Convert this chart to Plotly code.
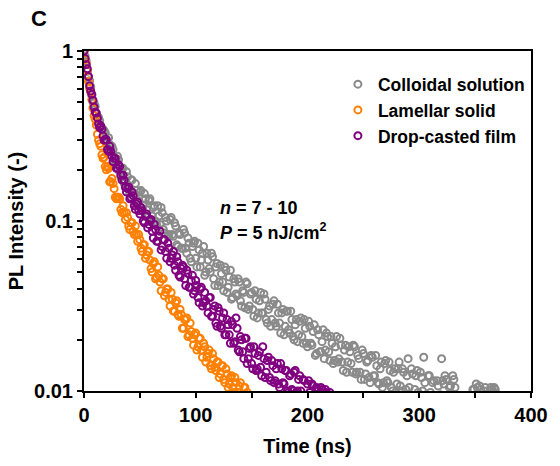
import plotly.graph_objects as go

# Time step of the acquisition grid (ns)
DT = 1.0

# PL intensity values (normalised), one per ns
colloidal = [1.000,0.933,0.871,0.759,0.700,0.668,0.617,0.550,0.501,0.495,
 0.473,0.427,0.407,0.407,0.389,0.355,0.347,0.347,0.339,0.331,
 0.288,0.269,0.309,0.282,0.257,0.275,0.263,0.224,0.214,0.224,
 0.240,0.229,0.195,0.182,0.204,0.204,0.166,0.170,0.195,0.182,
 0.162,0.145,0.174,0.174,0.141,0.145,0.166,0.151,0.132,0.123,
 0.148,0.151,0.117,0.123,0.145,0.135,0.117,0.105,0.132,0.135,
 0.100,0.107,0.120,0.123,0.100,0.0955,0.123,0.107,0.0955,0.120,
 0.112,0.0891,0.0851,0.105,0.100,0.0813,0.0832,0.102,0.105,0.0832,
 0.0813,0.0977,0.0933,0.0724,0.0708,0.0851,0.0832,0.0692,0.0692,0.0891,
 0.0851,0.0692,0.0646,0.0794,0.0741,0.0603,0.0575,0.0708,0.0741,0.0759,
 0.0603,0.0537,0.0741,0.0676,0.0537,0.0589,0.0646,0.0708,0.0479,0.0501,
 0.0646,0.0589,0.0525,0.0501,0.0646,0.0617,0.0457,0.0417,0.0537,0.0562,
 0.0417,0.0437,0.0550,0.0490,0.0437,0.0389,0.0537,0.0513,0.0380,0.0407,
 0.0468,0.0513,0.0347,0.0355,0.0457,0.0437,0.0372,0.0363,0.0457,0.0437,
 0.0339,0.0316,0.0389,0.0380,0.0309,0.0437,0.0427,0.0302,0.0316,0.0372,
 0.0380,0.0302,0.0275,0.0389,0.0347,0.0269,0.0288,0.0339,0.0380,0.0288,
 0.0288,0.0372,0.0347,0.0263,0.0251,0.0302,0.0316,0.0240,0.0263,0.0324,
 0.0339,0.0251,0.0240,0.0324,0.0288,0.0251,0.0219,0.0288,0.0302,0.0214,
 0.0240,0.0295,0.0295,0.0229,0.0219,0.0295,0.0263,0.0209,0.0200,0.0245,
 0.0263,0.0195,0.0214,0.0257,0.0269,0.0209,0.0191,0.0263,0.0234,0.0191,
 0.0182,0.0257,0.0240,0.0191,0.0186,0.0224,0.0245,0.0162,0.0166,0.0229,
 0.0214,0.0170,0.0170,0.0195,0.0229,0.0155,0.0174,0.0219,0.0209,0.0170,
 0.0151,0.0209,0.0191,0.0145,0.0151,0.0182,0.0209,0.0148,0.0155,0.0204,
 0.0186,0.0148,0.0132,0.0174,0.0186,0.0129,0.0148,0.0182,0.0170,0.0145,
 0.0129,0.0186,0.0182,0.0126,0.0129,0.0162,0.0155,0.0129,0.0117,0.0174,
 0.0166,0.0117,0.0126,0.0148,0.0151,0.0120,0.0112,0.0162,0.0158,0.0123,
 0.0123,0.0162,0.0141,0.0112,0.0110,0.0135,0.0148,0.0105,0.0112,0.0145,
 0.0151,0.0115,0.0112,0.0148,0.0132,0.0105,0.0100,0.0129,0.0135,0.0098,
 0.0110,0.0135,0.0148,0.0107,0.0100,0.0135,0.0129,0.0095,0.0102,0.0123,
 0.0155,0.0105,0.0095,0.0135,0.0126,0.0093,0.0102,0.0123,0.0132,0.0098,
 0.0095,0.0129,0.0120,0.0100,0.0158,0.0112,0.0095,0.0091,0.0123,0.0123,
 0.0098,0.0093,0.0112,0.0115,0.0089,0.0085,0.0115,0.0107,0.0091,0.0095,
 0.0155,0.0115,0.0110,0.0123,0.0117,0.0087,0.0087,0.0105,0.0107,0.0083,
 0.0123,0.0117,0.0105,0.0089,0.0081,0.0079,0.0089,0.0093,0.0081,0.0079,
 0.0087,0.0093,0.0078,0.0079,0.0087,0.0085,0.0078,0.0074,0.0102,0.0102,
 0.0095,0.0110,0.0105,0.0079,0.0107,0.0102,0.0079,0.0076,0.0100,0.0105,
 0.0079,0.0078,0.0076,0.0079,0.0105,0.0102,0.0098,0.0105,0.0102,0.0078,
 0.0095]

lamellar = [1.000,0.891,0.841,0.767,0.661,0.603,0.575,0.519,0.462,0.417,
 0.398,0.367,0.324,0.299,0.285,0.275,0.245,0.234,0.237,0.209,
 0.200,0.209,0.204,0.170,0.170,0.178,0.166,0.155,0.138,0.135,
 0.138,0.138,0.135,0.117,0.112,0.123,0.112,0.102,0.112,0.105,
 0.0933,0.0891,0.0977,0.0977,0.0871,0.0832,0.0933,0.0832,0.0759,0.0832,
 0.0776,0.0692,0.0661,0.0724,0.0724,0.0603,0.0631,0.0661,0.0661,0.0589,
 0.0525,0.0501,0.0562,0.0575,0.0457,0.0468,0.0537,0.0479,0.0437,0.0389,
 0.0457,0.0457,0.0363,0.0380,0.0398,0.0398,0.0347,0.0316,0.0380,0.0347,
 0.0295,0.0295,0.0331,0.0339,0.0282,0.0275,0.0302,0.0282,0.0234,0.0234,
 0.0263,0.0263,0.0269,0.0209,0.0214,0.0251,0.0224,0.0204,0.0186,0.0214,
 0.0219,0.0174,0.0182,0.0204,0.0204,0.0174,0.0158,0.0191,0.0182,0.0148,
 0.0158,0.0166,0.0174,0.0141,0.0135,0.0166,0.0155,0.0138,0.0132,0.0148,
 0.0148,0.0120,0.0126,0.0141,0.0141,0.0117,0.0112,0.0135,0.0126,0.0105,
 0.0110,0.0120,0.0123,0.0105,0.0098,0.0120,0.0112,0.0095,0.0098,0.0107,
 0.0112,0.0093,0.0095,0.0105,0.0105,0.0095,0.0098]

dropcast = [1.000,0.902,0.832,0.785,0.708,0.624,0.582,0.556,0.513,0.468,
 0.437,0.432,0.403,0.372,0.355,0.363,0.347,0.316,0.299,0.302,
 0.302,0.263,0.257,0.275,0.257,0.240,0.224,0.234,0.234,0.204,
 0.204,0.214,0.209,0.186,0.174,0.186,0.174,0.158,0.148,0.155,
 0.158,0.135,0.138,0.148,0.141,0.123,0.117,0.126,0.129,0.115,
 0.110,0.120,0.115,0.100,0.0977,0.107,0.110,0.0912,0.0955,0.100,
 0.102,0.0871,0.0794,0.0955,0.0891,0.0759,0.0759,0.0813,0.0871,0.0676,
 0.0708,0.0776,0.0776,0.0661,0.0603,0.0741,0.0692,0.0575,0.0603,0.0631,
 0.0661,0.0550,0.0513,0.0617,0.0575,0.0479,0.0468,0.0525,0.0550,0.0537,
 0.0457,0.0417,0.0513,0.0490,0.0407,0.0407,0.0447,0.0479,0.0372,0.0389,
 0.0447,0.0417,0.0355,0.0331,0.0398,0.0407,0.0316,0.0331,0.0380,0.0339,
 0.0316,0.0288,0.0355,0.0355,0.0275,0.0275,0.0302,0.0316,0.0251,0.0240,
 0.0309,0.0295,0.0240,0.0234,0.0269,0.0288,0.0214,0.0214,0.0263,0.0245,
 0.0214,0.0191,0.0257,0.0245,0.0191,0.0195,0.0269,0.0234,0.0174,0.0170,
 0.0209,0.0200,0.0170,0.0155,0.0204,0.0204,0.0145,0.0155,0.0178,0.0182,
 0.0145,0.0135,0.0182,0.0166,0.0132,0.0135,0.0162,0.0170,0.0138,0.0123,
 0.0182,0.0155,0.0120,0.0129,0.0151,0.0158,0.0120,0.0115,0.0151,0.0141,
 0.0112,0.0115,0.0135,0.0145,0.0110,0.0105,0.0145,0.0135,0.0112,0.0110,
 0.0132,0.0132,0.0100,0.0098,0.0123,0.0126,0.0102,0.0100,0.0129,0.0132,
 0.0098,0.0100,0.0117,0.0123,0.0100,0.0093,0.0117,0.0115,0.0091,0.0093,
 0.0110,0.0115,0.0098,0.0087,0.0110,0.0107,0.0089,0.0089,0.0105,0.0102,
 0.0089,0.0085,0.0105,0.0102,0.0089,0.0083,0.0102,0.0098,0.0085,0.0085,
 0.0098]

names = ["Colloidal solution", "Lamellar solid", "Drop-casted film"]
colors = ["#8a8a8a", "#ff8000", "#800080"]
series = [colloidal, lamellar, dropcast]

# axis tick values (labels blank at minor positions)
x_ticks = [0, 50, 100, 150, 200, 250, 300, 350, 400]
x_ticktext = ["0", "", "100", "", "200", "", "300", "", "400"]
y_ticks = [0.01, 0.02, 0.03, 0.04, 0.05, 0.06, 0.07, 0.08, 0.09,
           0.1, 0.2, 0.3, 0.4, 0.5, 0.6, 0.7, 0.8, 0.9, 1]
y_ticktext = ["0.01", "", "", "", "", "", "", "", "",
              "0.1", "", "", "", "", "", "", "", "", "1"]

FONT = "Liberation Sans, Arial, sans-serif"

fig = go.Figure()
for name, col, ys in zip(names, colors, series):
    ts = [DT * i for i in range(len(ys))]
    fig.add_trace(go.Scatter(
        x=ts, y=ys, mode="markers", name=name,
        marker=dict(symbol="circle-open", size=7, color=col,
                    line=dict(width=2, color=col)),
    ))

axis_common = dict(
    showline=True, linewidth=2, linecolor="black", mirror=True,
    ticks="outside", ticklen=5, tickwidth=2, tickcolor="black",
    showgrid=False, zeroline=False,
    tickfont=dict(family=FONT, size=20, color="black", weight="bold"),
)

fig.update_layout(
    width=560, height=466,
    margin=dict(l=84, r=17, t=51, b=74),
    paper_bgcolor="white", plot_bgcolor="white",
    font=dict(family=FONT, color="black"),
    showlegend=True,
    legend=dict(x=0.568, y=0.955, xanchor="left", yanchor="top",
                bgcolor="rgba(0,0,0,0)", tracegroupgap=0,
                font=dict(family=FONT, size=17.5, color="black", weight="bold")),
    xaxis=dict(range=[0, 400], tickmode="array", tickvals=x_ticks, ticktext=x_ticktext,
               title=dict(text="Time (ns)", standoff=14,
                          font=dict(family=FONT, size=20, color="black", weight="bold")),
               **axis_common),
    yaxis=dict(type="log", range=[-2, 0], tickmode="array",
               tickvals=y_ticks, ticktext=y_ticktext,
               title=dict(text="PL Intensity (-)", standoff=5,
                          font=dict(family=FONT, size=20, color="black", weight="bold")),
               **axis_common),
    annotations=[
        dict(text="C", xref="paper", yref="paper", x=-0.124, y=1.097,
             xanchor="left", yanchor="middle", showarrow=False,
             font=dict(family=FONT, size=22, color="black", weight="bold")),
        dict(text="<i>n</i> = 7 - 10", xref="paper", yref="paper", x=0.3007, y=0.5396,
             xanchor="left", yanchor="middle", showarrow=False,
             font=dict(family=FONT, size=18, color="black", weight="bold")),
        dict(text="<i>P</i> = 5 nJ/cm<sup>2</sup>", xref="paper", yref="paper", x=0.3007, y=0.47,
             xanchor="left", yanchor="middle", showarrow=False,
             font=dict(family=FONT, size=18, color="black", weight="bold")),
    ],
)

fig.write_html("out.html")
